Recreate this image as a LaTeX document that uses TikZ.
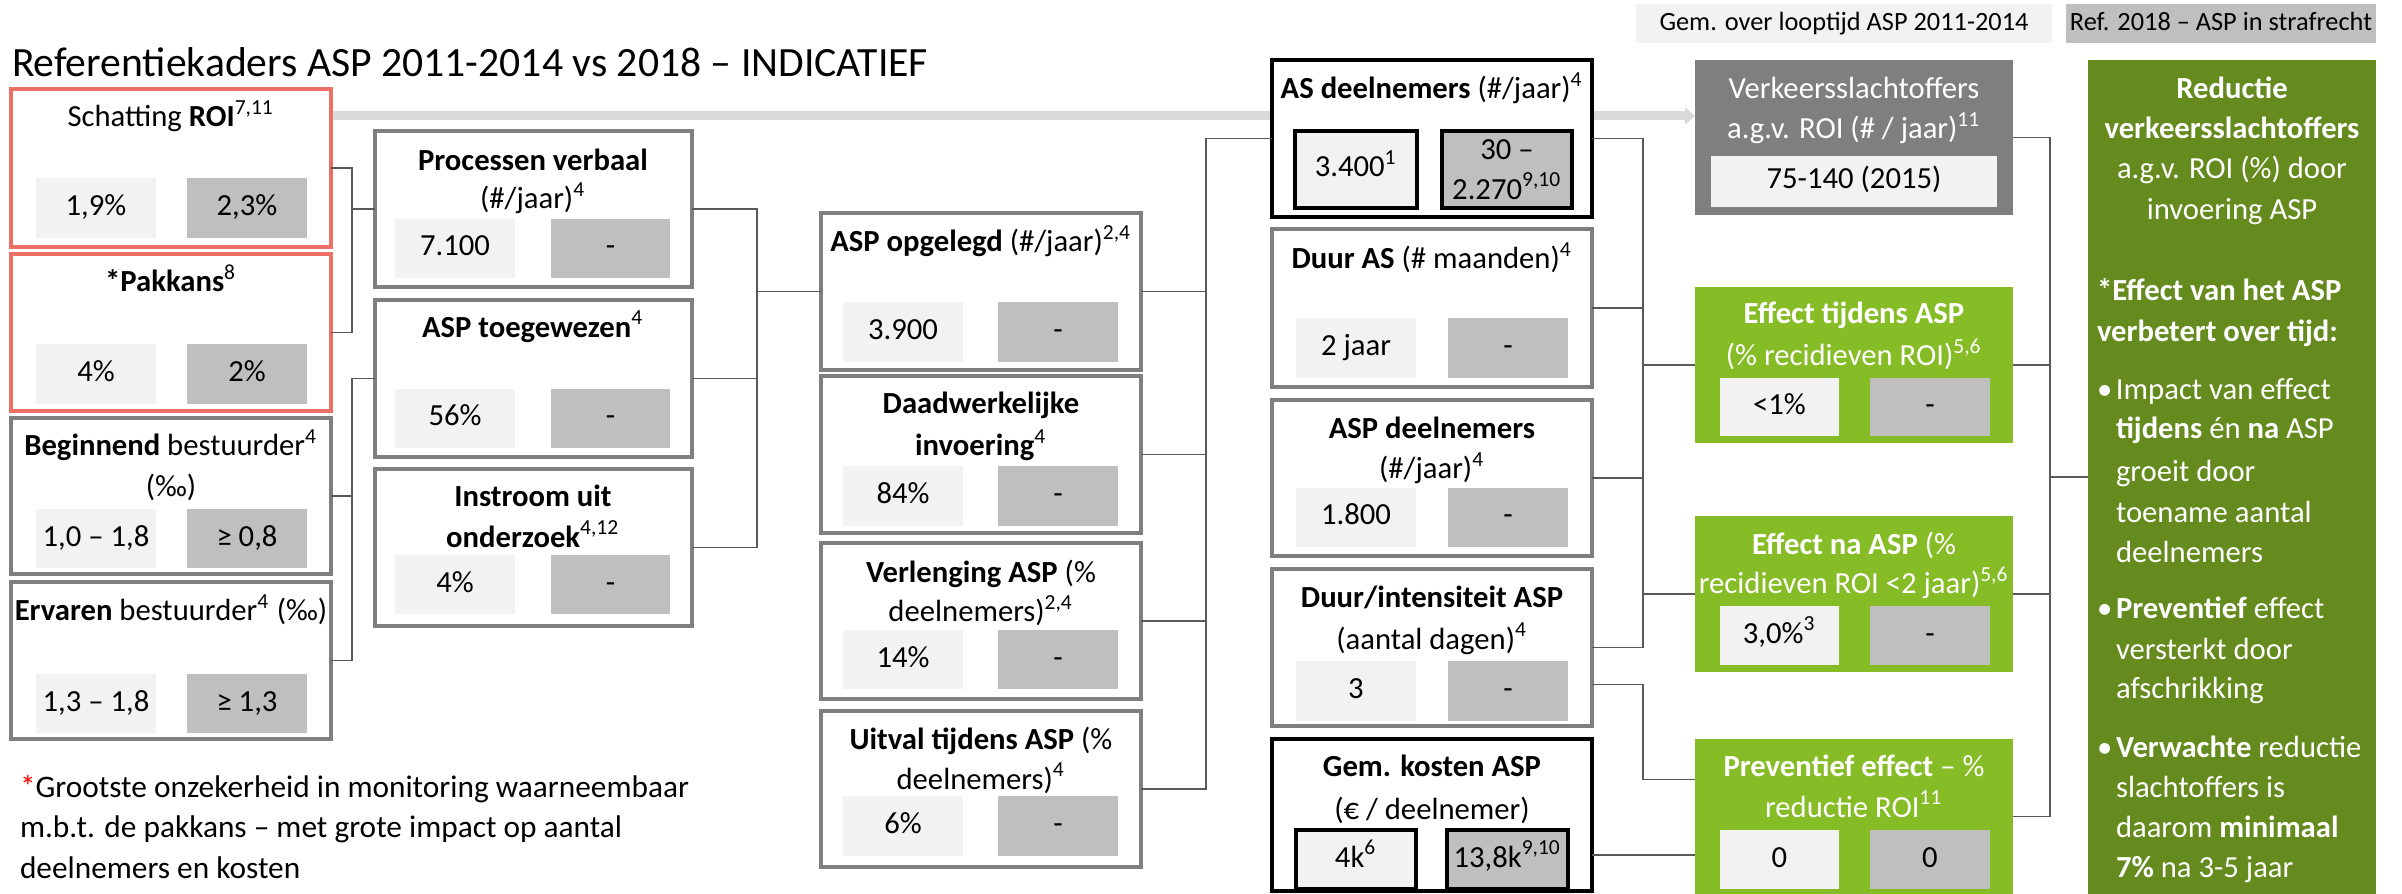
\documentclass[tikz,border=0pt]{standalone}
\usepackage{fontspec}
\setmainfont{Carlito}
\usetikzlibrary{calc,arrows.meta,backgrounds}
\definecolor{redb}{RGB}{237,112,103}
\definecolor{greyb}{RGB}{127,127,127}
\definecolor{conncol}{RGB}{89,89,89}
\definecolor{lightf}{HTML}{F2F2F2}
\definecolor{darkf}{HTML}{BFBFBF}
\definecolor{lgreen}{HTML}{86BC25}
\definecolor{dgreen}{HTML}{658B1F}
\definecolor{arrowg}{HTML}{D9D9D9}
\newcommand\spx[1]{\textsuperscript{#1}}
\newcommand\fs{\fontsize{9.2}{12}\selectfont}
\newcommand\bx[7]{\node[#2, minimum width={(#5-#3)*0.3pt}, minimum height={(#6-#4)*0.3pt}] (#1) at ({(#3+#5)/2},{(#4+#6)/2}) {#7};}
\tikzset{
  every node/.style={inner sep=0pt, outer sep=0pt, font=\fs},
  redbox/.style={draw=redb, line width=1.3pt, fill=white},
  greybox/.style={draw=greyb, line width=1.3pt, fill=white},
  blackbox/.style={draw=black, line width=1.2pt, fill=white},
  lt/.style={fill=lightf, text height=6.3pt, text depth=1.8pt},
  dk/.style={fill=darkf, text height=6.3pt, text depth=1.8pt},
  ltb/.style={fill=lightf, draw=black, line width=1pt, text height=6.3pt, text depth=1.8pt},
  dkb/.style={fill=darkf, draw=black, line width=1pt, text height=6.3pt, text depth=1.8pt},
  dkbtwo/.style={fill=darkf, draw=black, line width=1pt, align=center},
  gbox/.style={fill=lgreen},
  rbox/.style={fill=dgreen},
  vbox/.style={fill=greyb},
  ttl/.style={anchor=base},
  wttl/.style={anchor=base, text=white},
  rtxt/.style={anchor=base west, text=white},
  fnote/.style={anchor=base west, font=\fontsize{9.4}{11}\selectfont},
  conn/.style={draw=conncol, line width=0.5pt},
}
\begin{document}
\begin{tikzpicture}[x=0.3pt, y=-0.3pt]
\useasboundingbox (0,0) rectangle (2402,894);

% title
\node[anchor=base west, font=\fontsize{12.5}{14}\selectfont] (title) at (12,77) {Referentiekaders ASP 2011-2014 vs 2018 – INDICATIEF};

% legend
\bx{lg1}{lt}{1636}{4}{2052}{43}{\fontsize{7.9}{9}\selectfont Gem. over looptijd ASP 2011-2014}
\bx{lg2}{dk}{2066}{4}{2376}{43}{\fontsize{7.9}{9}\selectfont Ref. 2018 – ASP in strafrecht}

% column 1
\bx{roi}{redbox}{11}{89}{331}{247}{}
\node[ttl] (roit) at (171,127) {Schatting \textbf{ROI}\spx{7,11}};
\bx{roi1}{lt}{36}{178}{156}{238}{1,9\%}
\bx{roi2}{dk}{187}{178}{307}{238}{2,3\%}

\bx{pak}{redbox}{11}{254}{331}{411}{}
\node[ttl] (pakt) at (171,292) {\textbf{*Pakkans}\spx{8}};
\bx{pak1}{lt}{36}{344}{156}{404}{4\%}
\bx{pak2}{dk}{187}{344}{307}{404}{2\%}

\bx{beg}{greybox}{11}{418}{331}{574}{}
\node[ttl] (begt) at (171,456) {\textbf{Beginnend} bestuurder\spx{4}};
\node[ttl] (begt2) at (171,497) {(‰)};
\bx{beg1}{lt}{36}{509}{156}{568}{1,0 – 1,8}
\bx{beg2}{dk}{187}{509}{307}{568}{≥ 0,8}

\bx{erv}{greybox}{11}{582}{331}{739}{}
\node[ttl] (ervt) at (171,621) {\textbf{Ervaren} bestuurder\spx{4} (‰)};
\bx{erv1}{lt}{36}{674}{156}{733}{1,3 – 1,8}
\bx{erv2}{dk}{187}{674}{307}{733}{≥ 1,3}

% column 2
\bx{pv}{greybox}{375}{131}{692}{287}{}
\node[ttl] (pvt) at (533,171) {\textbf{Processen verbaal}};
\node[ttl] (pvt2) at (533,209) {(\#/jaar)\spx{4}};
\bx{pv1}{lt}{395}{219}{515}{278}{7.100}
\bx{pv2}{dk}{551}{219}{670}{278}{-}

\bx{toe}{greybox}{375}{300}{692}{457}{}
\node[ttl] (toet) at (533,337) {\textbf{ASP toegewezen}\spx{4}};
\bx{toe1}{lt}{395}{389}{515}{448}{56\%}
\bx{toe2}{dk}{551}{389}{670}{448}{-}

\bx{ins}{greybox}{375}{469}{692}{626}{}
\node[ttl] (inst) at (533,507) {\textbf{Instroom uit}};
\node[ttl] (inst2) at (533,547) {\textbf{onderzoek}\spx{4,12}};
\bx{ins1}{lt}{395}{555}{515}{614}{4\%}
\bx{ins2}{dk}{551}{555}{670}{614}{-}

% column 3
\bx{opg}{greybox}{821}{213}{1141}{370}{}
\node[ttl] (opgt) at (981,252) {\textbf{ASP opgelegd} (\#/jaar)\spx{2,4}};
\bx{opg1}{lt}{843}{302}{963}{362}{3.900}
\bx{opg2}{dk}{998}{302}{1118}{362}{-}

\bx{daa}{greybox}{821}{376}{1141}{533}{}
\node[ttl] (daat) at (981,414) {\textbf{Daadwerkelijke}};
\node[ttl] (daat2) at (981,456) {\textbf{invoering}\spx{4}};
\bx{daa1}{lt}{843}{466}{963}{526}{84\%}
\bx{daa2}{dk}{998}{466}{1118}{526}{-}

\bx{ver}{greybox}{821}{543}{1141}{699}{}
\node[ttl] (vert) at (981,582) {\textbf{Verlenging ASP} (\%};
\node[ttl] (vert2) at (981,622) {deelnemers)\spx{2,4}};
\bx{ver1}{lt}{843}{630}{963}{689}{14\%}
\bx{ver2}{dk}{998}{630}{1118}{689}{-}

\bx{uit}{greybox}{821}{711}{1141}{867}{}
\node[ttl] (uitt) at (981,749) {\textbf{Uitval tijdens ASP} (\%};
\node[ttl] (uitt2) at (981,789) {deelnemers)\spx{4}};
\bx{uit1}{lt}{843}{796}{963}{856}{6\%}
\bx{uit2}{dk}{998}{796}{1118}{856}{-}

% column 4
\bx{asd}{blackbox}{1272}{60}{1592}{217}{}
\node[ttl] (asdt) at (1432,99) {\textbf{AS deelnemers} (\#/jaar)\spx{4}};
\bx{asd1}{ltb}{1295}{131}{1417}{208}{3.400\spx{1}}
\bx{asd2}{dkbtwo}{1442}{131}{1572}{208}{30 –\\2.270\spx{9,10}}

\bx{dur}{greybox}{1272}{229}{1592}{387}{}
\node[ttl] (durt) at (1432,269) {\textbf{Duur AS} (\# maanden)\spx{4}};
\bx{dur1}{lt}{1296}{318}{1416}{378}{2 jaar}
\bx{dur2}{dk}{1448}{318}{1568}{378}{-}

\bx{aspd}{greybox}{1272}{400}{1592}{556}{}
\node[ttl] (aspdt) at (1432,439) {\textbf{ASP deelnemers}};
\node[ttl] (aspdt2) at (1432,479) {(\#/jaar)\spx{4}};
\bx{aspd1}{lt}{1296}{488}{1416}{547}{1.800}
\bx{aspd2}{dk}{1448}{488}{1568}{547}{-}

\bx{int}{greybox}{1272}{569}{1592}{726}{}
\node[ttl] (intt) at (1432,607) {\textbf{Duur/intensiteit ASP}};
\node[ttl] (intt2) at (1432,649) {(aantal dagen)\spx{4}};
\bx{int1}{lt}{1296}{661}{1416}{721}{3}
\bx{int2}{dk}{1448}{661}{1568}{721}{-}

\bx{kos}{blackbox}{1272}{739}{1592}{891}{}
\node[ttl] (kost) at (1432,777) {\textbf{Gem. kosten ASP}};
\node[ttl] (kost2) at (1432,819) {(€ / deelnemer)};
\bx{kos1}{ltb}{1296}{830}{1416}{889}{4k\spx{6}}
\bx{kos2}{dkb}{1447}{830}{1568}{889}{13,8k\spx{9,10}}

% column 5
\bx{vk}{vbox}{1695}{60}{2013}{215}{}
\node[wttl] (vkt) at (1854,99) {Verkeersslachtoffers};
\node[wttl] (vkt2) at (1854,139) {a.g.v. ROI (\# / jaar)\spx{11}};
\bx{vk1}{lt}{1711}{156}{1997}{207}{75-140 (2015)}

\bx{et}{gbox}{1695}{287}{2013}{443}{}
\node[wttl] (ett) at (1854,324) {\textbf{Effect tijdens ASP}};
\node[wttl] (ett2) at (1854,366) {(\% recidieven ROI)\spx{5,6}};
\bx{et1}{lt}{1720}{378}{1839}{436}{<1\%}
\bx{et2}{dk}{1870}{378}{1990}{436}{-}

\bx{en}{gbox}{1695}{516}{2013}{672}{}
\node[wttl] (ent) at (1854,554) {\textbf{Effect na ASP} (\%};
\node[wttl] (ent2) at (1854,594) {recidieven ROI <2 jaar)\spx{5,6}};
\bx{en1}{lt}{1720}{606}{1839}{665}{3,0\%\spx{3}}
\bx{en2}{dk}{1870}{606}{1990}{665}{-}

\bx{pe}{gbox}{1695}{739}{2013}{894}{}
\node[wttl] (pet) at (1854,777) {\textbf{Preventief effect} – \%};
\node[wttl] (pet2) at (1854,817) {reductie ROI\spx{11}};
\bx{pe1}{lt}{1720}{830}{1839}{889}{0}
\bx{pe2}{dk}{1870}{830}{1990}{889}{0}

% column 6
\bx{redu}{rbox}{2088}{60}{2376}{894}{}
\node[wttl] (r1) at (2232,99) {\textbf{Reductie}};
\node[wttl] (r2) at (2232,139) {\textbf{verkeersslachtoffers}};
\node[wttl] (r3) at (2232,179) {a.g.v. ROI (\%) door};
\node[wttl] (r4) at (2232,220) {invoering ASP};
\node[rtxt] (r5) at (2097,301) {\textbf{*Effect van het ASP}};
\node[rtxt] (r6) at (2097,342) {\textbf{verbetert over tijd:}};
\node[rtxt] (r7) at (2097,399) {\makebox[5.7pt][l]{•}Impact van effect};
\node[rtxt] (r8) at (2116,439) {\textbf{tijdens} én \textbf{na} ASP};
\node[rtxt] (r9) at (2116,482) {groeit door};
\node[rtxt] (r10) at (2116,522) {toename aantal};
\node[rtxt] (r11) at (2116,562) {deelnemers};
\node[rtxt] (r12) at (2097,619) {\makebox[5.7pt][l]{•}\textbf{Preventief} effect};
\node[rtxt] (r13) at (2116,659) {versterkt door};
\node[rtxt] (r14) at (2116,699) {afschrikking};
\node[rtxt] (r15) at (2097,757) {\makebox[5.7pt][l]{•}\textbf{Verwachte} reductie};
\node[rtxt] (r16) at (2116,797) {slachtoffers is};
\node[rtxt] (r17) at (2116,837) {daarom \textbf{minimaal}};
\node[rtxt] (r18) at (2116,877) {\textbf{7\%} na 3-5 jaar};

% footnote
\node[fnote] (fn1) at (20,797) {\textcolor{red}{*}Grootste onzekerheid in monitoring waarneembaar};
\node[fnote] (fn2) at (20,837) {m.b.t. de pakkans – met grote impact op aantal};
\node[fnote] (fn3) at (20,878) {deelnemers en kosten};

% connectors
\coordinate (b1) at (352,0);
\coordinate (b2) at (757,0);
\coordinate (b3) at (1206,0);
\coordinate (b4) at (1643,0);
\coordinate (b6) at (2050,0);

\draw[conn] (roi.east) -| (pak.east -| b1) -- (pak.east);
\draw[conn] (pv.west) -- (pv.west -| b1);
\draw[conn] (toe.west) -- (toe.west -| b1) |- (erv.east);
\draw[conn] (beg.east) -- (beg.east -| b1);

\draw[conn] (pv.east) -| (ins.east -| b2) -- (ins.east);
\draw[conn] (toe.east) -- (toe.east -| b2);
\draw[conn] (opg.west) -- (opg.west -| b2);

\draw[conn] (asd.west) -| (uit.east -| b3) -- (uit.east);
\draw[conn] (opg.east) -- (opg.east -| b3);
\draw[conn] (daa.east) -- (daa.east -| b3);
\draw[conn] (ver.east) -- (ver.east -| b3);

\draw[conn] (asd.east) -| (int.east -| b4) -- (int.east);
\draw[conn] (dur.east) -- (dur.east -| b4);
\draw[conn] (aspd.east) -- (aspd.east -| b4);
\draw[conn] (et.west) -- (et.west -| b4);
\draw[conn] (en.west) -- (en.west -| b4);
\path ($(int.east)+(0,37)$) coordinate (i2);
\path ($(pe.west)+(0,-37)$) coordinate (p2);
\draw[conn] (i2) -| (p2 -| b4) -- (p2);
\path ($(pe.west)+(0,38.5)$) coordinate (p3);
\draw[conn] (p3 -| kos.east) -- (p3);

\draw[conn] (vk.east) -| (pe.east -| b6) -- (pe.east);
\draw[conn] (et.east) -- (et.east -| b6);
\draw[conn] (en.east) -- (en.east -| b6);
\draw[conn] (redu.west) -- (redu.west -| b6);

% grey arrow behind the boxes
\begin{scope}[on background layer]
\draw[line width=2.7pt, arrowg, -{Triangle[length=3pt,width=5pt]}] ($(roi.north east)+(0,27)$) -- ($(vk.north west)+(0,56)$);
\end{scope}
\end{tikzpicture}
\end{document}
